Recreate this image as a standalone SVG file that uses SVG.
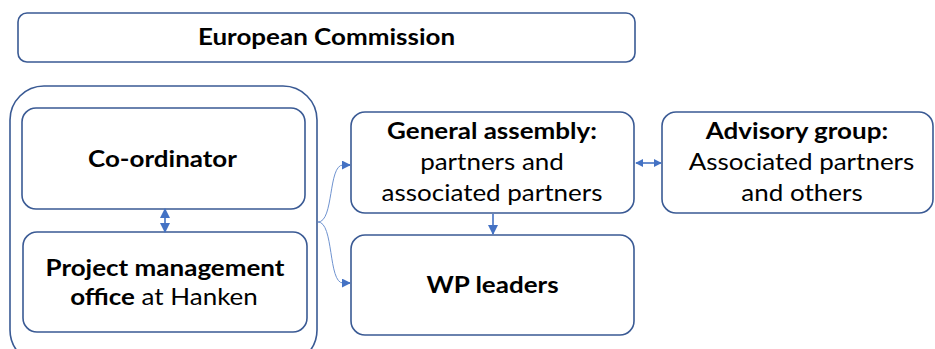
<svg xmlns="http://www.w3.org/2000/svg" width="935" height="349" viewBox="0 0 935 349">
  <defs>
    <style>
      .box { fill: #ffffff; stroke: #3a5a94; stroke-width: 1.6; }
      .t { font-family: Lato, "Open Sans", sans-serif; font-size: 23px; fill: #000000; text-anchor: middle; }
      .b { font-weight: bold; }
      .link { fill: none; stroke: #4472c4; stroke-width: 1.6; }
      .thin { fill: none; stroke: #6f93d0; stroke-width: 1; }
    </style>
    <marker id="ah" viewBox="0 0 10 10" refX="9" refY="5" markerWidth="8" markerHeight="8" orient="auto-start-reverse" markerUnits="userSpaceOnUse">
      <path d="M0,0 L10,5 L0,10 z" fill="#4472c4"/>
    </marker>
    <marker id="ahl" viewBox="0 0 10 10" refX="9" refY="5" markerWidth="10" markerHeight="10" orient="auto-start-reverse" markerUnits="userSpaceOnUse">
      <path d="M0,0 L10,5 L0,10 z" fill="#4472c4"/>
    </marker>
    <marker id="ahs" viewBox="0 0 10 10" refX="9" refY="5" markerWidth="9" markerHeight="9" orient="auto-start-reverse" markerUnits="userSpaceOnUse">
      <path d="M0,0 L10,5 L0,10 z" fill="#4472c4"/>
    </marker>
  </defs>
  <rect width="935" height="349" fill="#ffffff"/>

  <!-- labels use a slightly widened face: each text is placed by translate, then stretched 1.13x horizontally -->
  <g id="european-commission">
    <rect class="box" x="18" y="13" width="617" height="49" rx="9"/>
    <text class="t b" transform="translate(326.5,45) scale(1.13,1)">European Commission</text>
  </g>

  <g id="management-group">
    <rect class="box" x="10" y="86" width="307" height="278" rx="34"/>
  </g>

  <g id="coordinator">
    <rect class="box" x="22" y="108" width="283" height="101" rx="14"/>
    <text class="t b" transform="translate(162.5,166.5) scale(1.13,1)">Co-ordinator</text>
  </g>

  <g id="project-office">
    <rect class="box" x="23" y="232" width="284" height="100" rx="14"/>
    <text class="t b" transform="translate(165,275.5) scale(1.13,1)">Project management</text>
    <text class="t" transform="translate(164,305) scale(1.13,1)"><tspan class="b">office</tspan> at Hanken</text>
  </g>

  <g id="general-assembly">
    <rect class="box" x="351" y="112" width="283" height="101" rx="14"/>
    <text class="t b" transform="translate(492,138.5) scale(1.13,1)">General assembly:</text>
    <text class="t" transform="translate(492,170) scale(1.13,1)">partners and</text>
    <text class="t" transform="translate(492,201) scale(1.13,1)">associated partners</text>
  </g>

  <g id="advisory-group">
    <rect class="box" x="662" y="112" width="271" height="101" rx="14"/>
    <text class="t b" transform="translate(797,138.5) scale(1.13,1)">Advisory group:</text>
    <text class="t" transform="translate(801.5,170) scale(1.13,1)">Associated partners</text>
    <text class="t" transform="translate(802,201) scale(1.13,1)">and others</text>
  </g>

  <g id="wp-leaders">
    <rect class="box" x="351" y="235" width="283" height="100" rx="14"/>
    <text class="t b" transform="translate(492.5,293) scale(1.13,1)">WP leaders</text>
  </g>

  <g id="connectors">
    <line class="link" x1="165" y1="209" x2="165" y2="232" marker-start="url(#ahl)" marker-end="url(#ahl)"/>
    <line class="link" x1="493" y1="214" x2="493" y2="234" marker-end="url(#ahl)"/>
    <line class="link" x1="636" y1="163" x2="661" y2="163" marker-start="url(#ah)" marker-end="url(#ah)"/>
    <path class="thin" d="M318,222 C334,222 328,165 343,165"/>
    <line class="link" x1="342" y1="165" x2="350" y2="165" marker-end="url(#ahs)"/>
    <path class="thin" d="M318,222 C334,222 328,283 343,283"/>
    <line class="link" x1="342" y1="283" x2="350" y2="283" marker-end="url(#ahs)"/>
  </g>
</svg>
